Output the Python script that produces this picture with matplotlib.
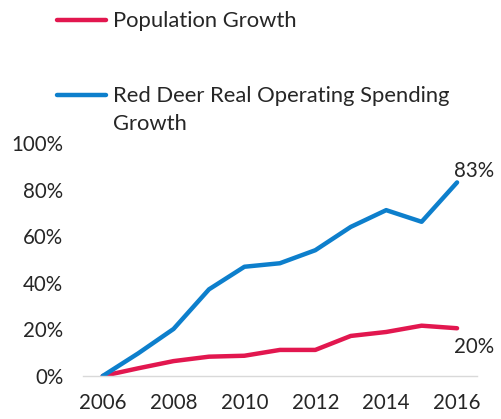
import matplotlib
matplotlib.use("Agg")
import matplotlib.pyplot as plt
from matplotlib.lines import Line2D
from matplotlib.ticker import FuncFormatter, MultipleLocator

years = [2006, 2007, 2008, 2009, 2010, 2011, 2012, 2013, 2014, 2015, 2016]
population = [0, 3.3, 6.4, 8.3, 8.7, 11.2, 11.2, 17.2, 18.9, 21.6, 20.5]
spending = [0, 9.7, 20.2, 37.2, 46.9, 48.4, 54.0, 64.0, 71.2, 66.2, 83.1]
labels = ["Population Growth", "Red Deer Real Operating Spending\nGrowth"]
end_labels = ["20%", "83%"]

RED = "#E2174F"
BLUE = "#0D7FCC"
TXT = "#262626"

plt.rcParams['font.family'] = ['Lato', 'DejaVu Sans']

fig = plt.figure(figsize=(5.02, 4.19), dpi=100)
ax = fig.add_axes([0.165, 0.1026, 0.785, 0.556])

ax.plot(years, population, color=RED, lw=3.2, solid_capstyle='round')
ax.plot(years, spending, color=BLUE, lw=3.2, solid_capstyle='round')

ax.set_xlim(2005.44, 2016.56)
ax.set_ylim(0, 100)
ax.yaxis.set_major_locator(MultipleLocator(20))
ax.yaxis.set_major_formatter(FuncFormatter(lambda v, p: f"{v:.0f}%"))
ax.set_xticks(years[::2])
for s in ['top', 'right', 'left']:
    ax.spines[s].set_visible(False)
ax.spines['bottom'].set_color('#D9D9D9')
ax.spines['bottom'].set_linewidth(1)
ax.tick_params(axis='both', length=0, labelsize=14.8, colors=TXT)
ax.tick_params(axis='x', pad=12)
ax.tick_params(axis='y', pad=14)

ax.annotate(end_labels[1], (years[-1], spending[-1]), xytext=(-2, 1),
            textcoords='offset points', fontsize=14.8, color=TXT, ha='left', va='bottom')
ax.annotate(end_labels[0], (years[-1], population[-1]), xytext=(-2, -6),
            textcoords='offset points', fontsize=14.8, color=TXT, ha='left', va='top')

# legend
W, H = 502, 419
for (y, col, lab) in [(20, RED, labels[0]), (95, BLUE, labels[1])]:
    fig.add_artist(Line2D([57 / W, 106 / W], [1 - y / H, 1 - y / H], color=col,
                          lw=3.2, solid_capstyle='round', transform=fig.transFigure))
    fig.text(113 / W, 1 - (y - 9) / H, lab, fontsize=15.8, color=TXT, ha='left',
             va='top', linespacing=1.5)

fig.savefig("out.png", dpi=100)
